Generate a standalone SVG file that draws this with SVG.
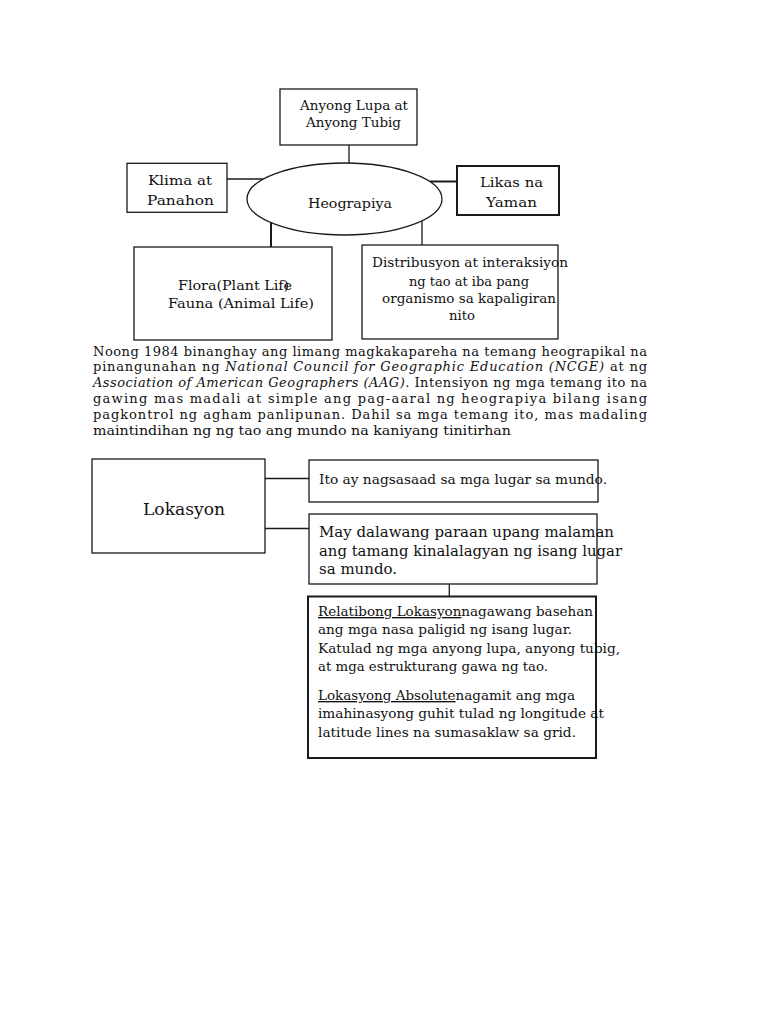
<svg xmlns="http://www.w3.org/2000/svg" width="768" height="1024" viewBox="0 0 768 1024">
<style>
  text { font-family: "DejaVu Serif", "Liberation Serif", serif; fill: #111; }
  .t { font-size: 13.5px; }
  .p { font-size: 13px; }
  .b { fill: #fff; stroke: #1a1a1a; stroke-width: 1.3; }
  .bt { fill: #fff; stroke: #1a1a1a; stroke-width: 2; }
  .c { stroke: #1a1a1a; stroke-width: 1.3; fill: none; }
  .ct { stroke: #1a1a1a; stroke-width: 2; fill: none; }
  .i { font-style: italic; }
  .u { text-decoration: underline; }
</style>
<rect width="768" height="1024" fill="#fff"/>
<g id="connectors">
  <line class="c" x1="349" y1="145" x2="349" y2="163"/>
  <line class="c" x1="227" y1="179" x2="263.5" y2="179"/>
  <line class="ct" x1="429.7" y1="181.5" x2="457" y2="181.5"/>
  <line class="ct" x1="271" y1="222.7" x2="271" y2="247"/>
  <line class="c" x1="422" y1="220.8" x2="422" y2="245"/>
  <line class="c" x1="265" y1="478.5" x2="309" y2="478.5"/>
  <line class="c" x1="265" y1="528.5" x2="309" y2="528.5"/>
  <line class="c" x1="449.3" y1="584" x2="449.3" y2="596.5"/>
</g>
<g id="node-anyong">
  <rect class="b" x="280" y="89" width="137" height="56"/>
  <text class="t" x="300" y="110" textLength="108" lengthAdjust="spacingAndGlyphs">Anyong Lupa at</text>
  <text class="t" x="306" y="127.3" textLength="95" lengthAdjust="spacingAndGlyphs">Anyong Tubig</text>
</g>
<g id="node-klima">
  <rect class="b" x="127" y="163.3" width="100" height="49"/>
  <text class="t" x="148" y="185" textLength="64" lengthAdjust="spacingAndGlyphs">Klima at</text>
  <text class="t" x="147" y="205" textLength="67" lengthAdjust="spacingAndGlyphs">Panahon</text>
</g>
<g id="node-heograpiya">
  <ellipse class="b" cx="344.5" cy="199" rx="97.5" ry="36"/>
  <text class="t" x="308" y="208" textLength="84" lengthAdjust="spacingAndGlyphs">Heograpiya</text>
</g>
<g id="node-likas">
  <rect class="bt" x="457" y="166" width="102" height="49"/>
  <text class="t" x="480" y="187" textLength="63" lengthAdjust="spacingAndGlyphs">Likas na</text>
  <text class="t" x="486" y="207" textLength="51" lengthAdjust="spacingAndGlyphs">Yaman</text>
</g>
<g id="node-flora">
  <rect class="b" x="134" y="247" width="198" height="93"/>
  <text class="t" x="178" y="290" textLength="114" lengthAdjust="spacingAndGlyphs">Flora(Plant Life<tspan dx="-8">)</tspan></text>
  <text class="t" x="168" y="308.3" textLength="146" lengthAdjust="spacingAndGlyphs">Fauna (Animal Life)</text>
</g>
<g id="node-distribusyon">
  <rect class="b" x="362" y="245" width="196" height="94"/>
  <text class="t" x="372" y="267" textLength="196" lengthAdjust="spacingAndGlyphs">Distribusyon at interaksiyon</text>
  <text class="t" x="409" y="285.7" textLength="120" lengthAdjust="spacingAndGlyphs">ng tao at iba pang</text>
  <text class="t" x="382" y="303" textLength="174" lengthAdjust="spacingAndGlyphs">organismo sa kapaligiran</text>
  <text class="t" x="449" y="320" textLength="26" lengthAdjust="spacingAndGlyphs">nito</text>
</g>
<g id="paragraph">
  <text class="p" x="93" y="355.5" textLength="554" lengthAdjust="spacing">Noong 1984 binanghay ang limang magkakapareha na temang heograpikal na</text>
  <text class="p" x="93" y="371.3" textLength="554" lengthAdjust="spacing">pinangunahan ng <tspan class="i">National Council for Geographic Education (NCGE)</tspan> at ng</text>
  <text class="p" x="93" y="387.1" textLength="554" lengthAdjust="spacing"><tspan class="i">Association of American Geographers (AAG)</tspan>. Intensiyon ng mga temang ito na</text>
  <text class="p" x="93" y="403" textLength="554" lengthAdjust="spacing">gawing mas madali at simple ang pag-aaral ng heograpiya bilang isang</text>
  <text class="p" x="93" y="418.8" textLength="554" lengthAdjust="spacing">pagkontrol ng agham panlipunan. Dahil sa mga temang ito, mas madaling</text>
  <text class="p" x="93" y="434.6" textLength="418" lengthAdjust="spacingAndGlyphs">maintindihan ng ng tao ang mundo na kaniyang tinitirhan</text>
</g>
<g id="node-lokasyon">
  <rect class="b" x="92" y="459" width="173" height="94"/>
  <text x="143" y="515" font-size="16.5" textLength="82" lengthAdjust="spacingAndGlyphs">Lokasyon</text>
</g>
<g id="node-ito">
  <rect class="b" x="309" y="460" width="289" height="42"/>
  <text class="t" x="319" y="484" textLength="288" lengthAdjust="spacingAndGlyphs">Ito ay nagsasaad sa mga lugar sa mundo.</text>
</g>
<g id="node-dalawang">
  <rect class="b" x="309" y="514" width="288" height="70"/>
  <text x="319" y="537.3" font-size="15" textLength="295" lengthAdjust="spacingAndGlyphs">May dalawang paraan upang malaman</text>
  <text x="319" y="555.5" font-size="15" textLength="303" lengthAdjust="spacingAndGlyphs">ang tamang kinalalagyan ng isang lugar</text>
  <text x="319" y="574" font-size="15" textLength="78" lengthAdjust="spacingAndGlyphs">sa mundo.</text>
</g>
<g id="node-paraan">
  <rect class="bt" x="308" y="596.5" width="288" height="161.5"/>
  <text class="t" x="318" y="616" textLength="275" lengthAdjust="spacingAndGlyphs"><tspan class="u">Relatibong Lokasyon</tspan>nagawang basehan</text>
  <text class="t" x="318" y="634.3" textLength="254" lengthAdjust="spacingAndGlyphs">ang mga nasa paligid ng isang lugar.</text>
  <text class="t" x="318" y="653" textLength="302" lengthAdjust="spacingAndGlyphs">Katulad ng mga anyong lupa, anyong tubig,</text>
  <text class="t" x="318" y="671" textLength="230" lengthAdjust="spacingAndGlyphs">at mga estrukturang gawa ng tao.</text>
  <text class="t" x="318" y="700" textLength="257" lengthAdjust="spacingAndGlyphs"><tspan class="u">Lokasyong Absolute</tspan>nagamit ang mga</text>
  <text class="t" x="318" y="718.3" textLength="286" lengthAdjust="spacingAndGlyphs">imahinasyong guhit tulad ng longitude at</text>
  <text class="t" x="318" y="736.7" textLength="258" lengthAdjust="spacingAndGlyphs">latitude lines na sumasaklaw sa grid.</text>
</g>
</svg>
